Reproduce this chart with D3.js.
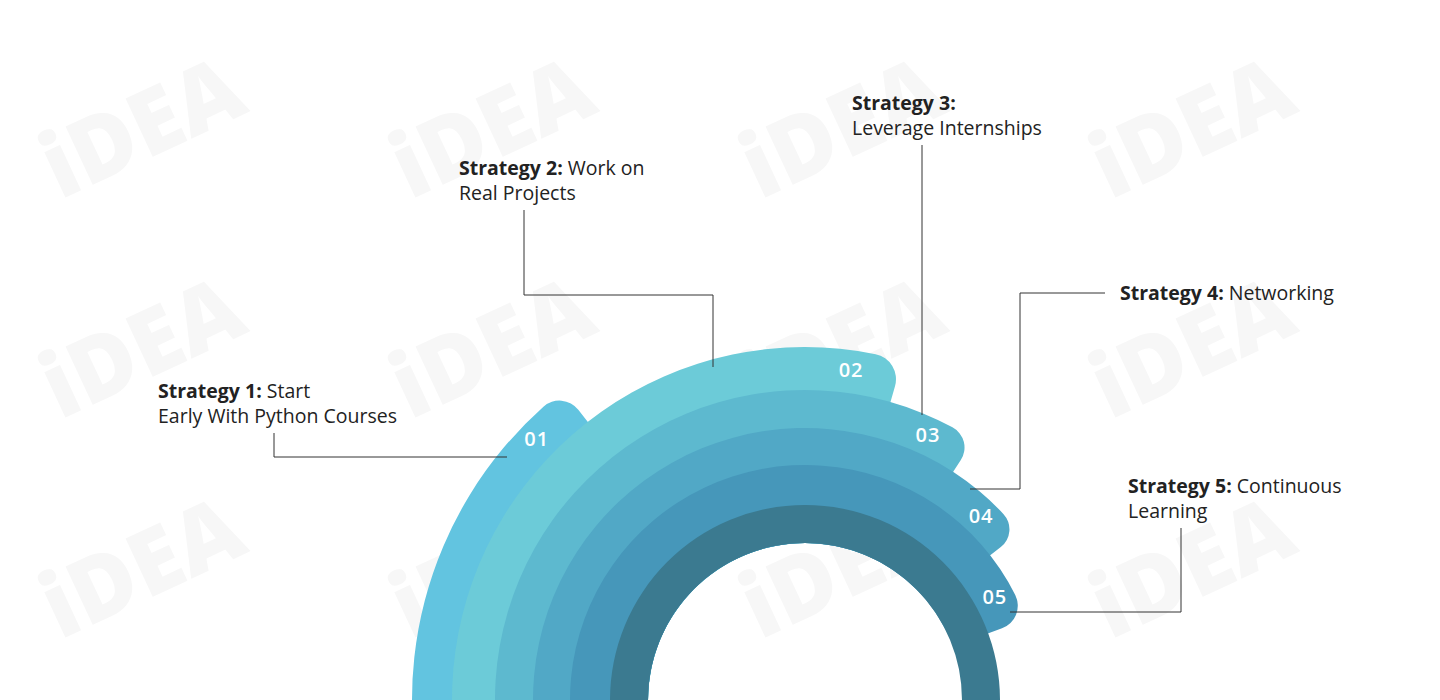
<!DOCTYPE html>
<html><head><meta charset="utf-8">
<script src="https://cdn.jsdelivr.net/npm/d3@7"></script>
<style>body{margin:0;background:#fff}text{font-family:"Open Sans",sans-serif}</style>
</head><body><svg id="chart" width="1440" height="700"></svg>
<script>
const numbers = ['01', '02', '03', '04', '05'];
const titles = ['Strategy 1:', 'Strategy 2:', 'Strategy 3:', 'Strategy 4:', 'Strategy 5:'];
const descs = [['Start', 'Early With Python Courses'], [' Work on', 'Real Projects'], ['', 'Leverage Internships'], ['Networking'], ['Continuous', 'Learning']];
const endAngles = [-38, 16, 33, 52, 70];      // degrees, where each band ends
const outerRadii = [393, 353, 310, 272, 235];
const colors = ['#62c4e0', '#6ccbd8', '#5db9cf', '#51a8c6', '#4697ba'];

const svg = d3.select('#chart');
const cx = 805, cy = 700, hole = 157;
const deg = d3.scaleLinear().domain([0, 360]).range([0, 2 * Math.PI]);

// faint watermark
const wm = svg.append('g').attr('fill', '#f7f7f7').attr('font-size', 90).attr('font-weight', 800);
for (let r = 0; r < 3; r++) for (let c = 0; c < 4; c++) {
    wm.append('text').attr('transform', `translate(${c * 350 + 60},${r * 220 + 200}) rotate(-25)`).text('iDEA');
}

const g = svg.append('g').attr('transform', `translate(${cx},${cy})`);
const arc = d3.arc().innerRadius(hole).cornerRadius(d => d.cornerRadius || 0);

numbers.forEach((n, i) => {
    const r = outerRadii[i];
    g.append('path')
        .attr('d', arc({outerRadius: r, startAngle: deg(-180), endAngle: deg(endAngles[i]), cornerRadius: (r - (outerRadii[i + 1] || 195)) / 2 + 4}))
        .attr('fill', colors[i]);
});
g.append('path').attr('d', arc({outerRadius: 195, startAngle: deg(-180), endAngle: deg(180)})).attr('fill', '#3b7a90');

// number labels
numbers.forEach((n, i) => {
    const rMid = (outerRadii[i] + (outerRadii[i + 1] || 195)) / 2;
    const a = deg(endAngles[i] - 8);
    g.append('text').attr('x', rMid * Math.sin(a)).attr('y', -rMid * Math.cos(a))
        .attr('text-anchor', 'middle').attr('dominant-baseline', 'middle')
        .attr('fill', '#fff').attr('font-size', 20).attr('font-weight', 600).attr('letter-spacing', 1).text(n);
});

// leader lines
const leaders = [
    [[507, 457], [274, 457], [274, 433]],
    [[713, 367], [713, 295], [524, 295], [524, 210]],
    [[922, 415], [922, 145]],
    [[970, 489], [1020, 489], [1020, 293], [1105, 293]],
    [[1010, 612], [1181, 612], [1181, 528]]
];
svg.selectAll('.leader').data(leaders).enter().append('path')
    .attr('d', d3.line()).attr('fill', 'none').attr('stroke', '#333').attr('stroke-width', 1);

const labelPos = [[158, 398], [459, 175], [852, 110], [1120, 300], [1128, 493]];
titles.forEach((t, i) => {
    const [x, y] = labelPos[i];
    const txt = svg.append('text').attr('x', x).attr('y', y).attr('font-size', 19.5).attr('fill', '#222');
    txt.append('tspan').attr('font-weight', 700).text(t);
    txt.append('tspan').text(' ' + descs[i][0]);
    if (descs[i][1]) svg.append('text').attr('x', x).attr('y', y + 25).attr('font-size', 19.5).attr('fill', '#222').text(descs[i][1]);
});
</script></body></html>
